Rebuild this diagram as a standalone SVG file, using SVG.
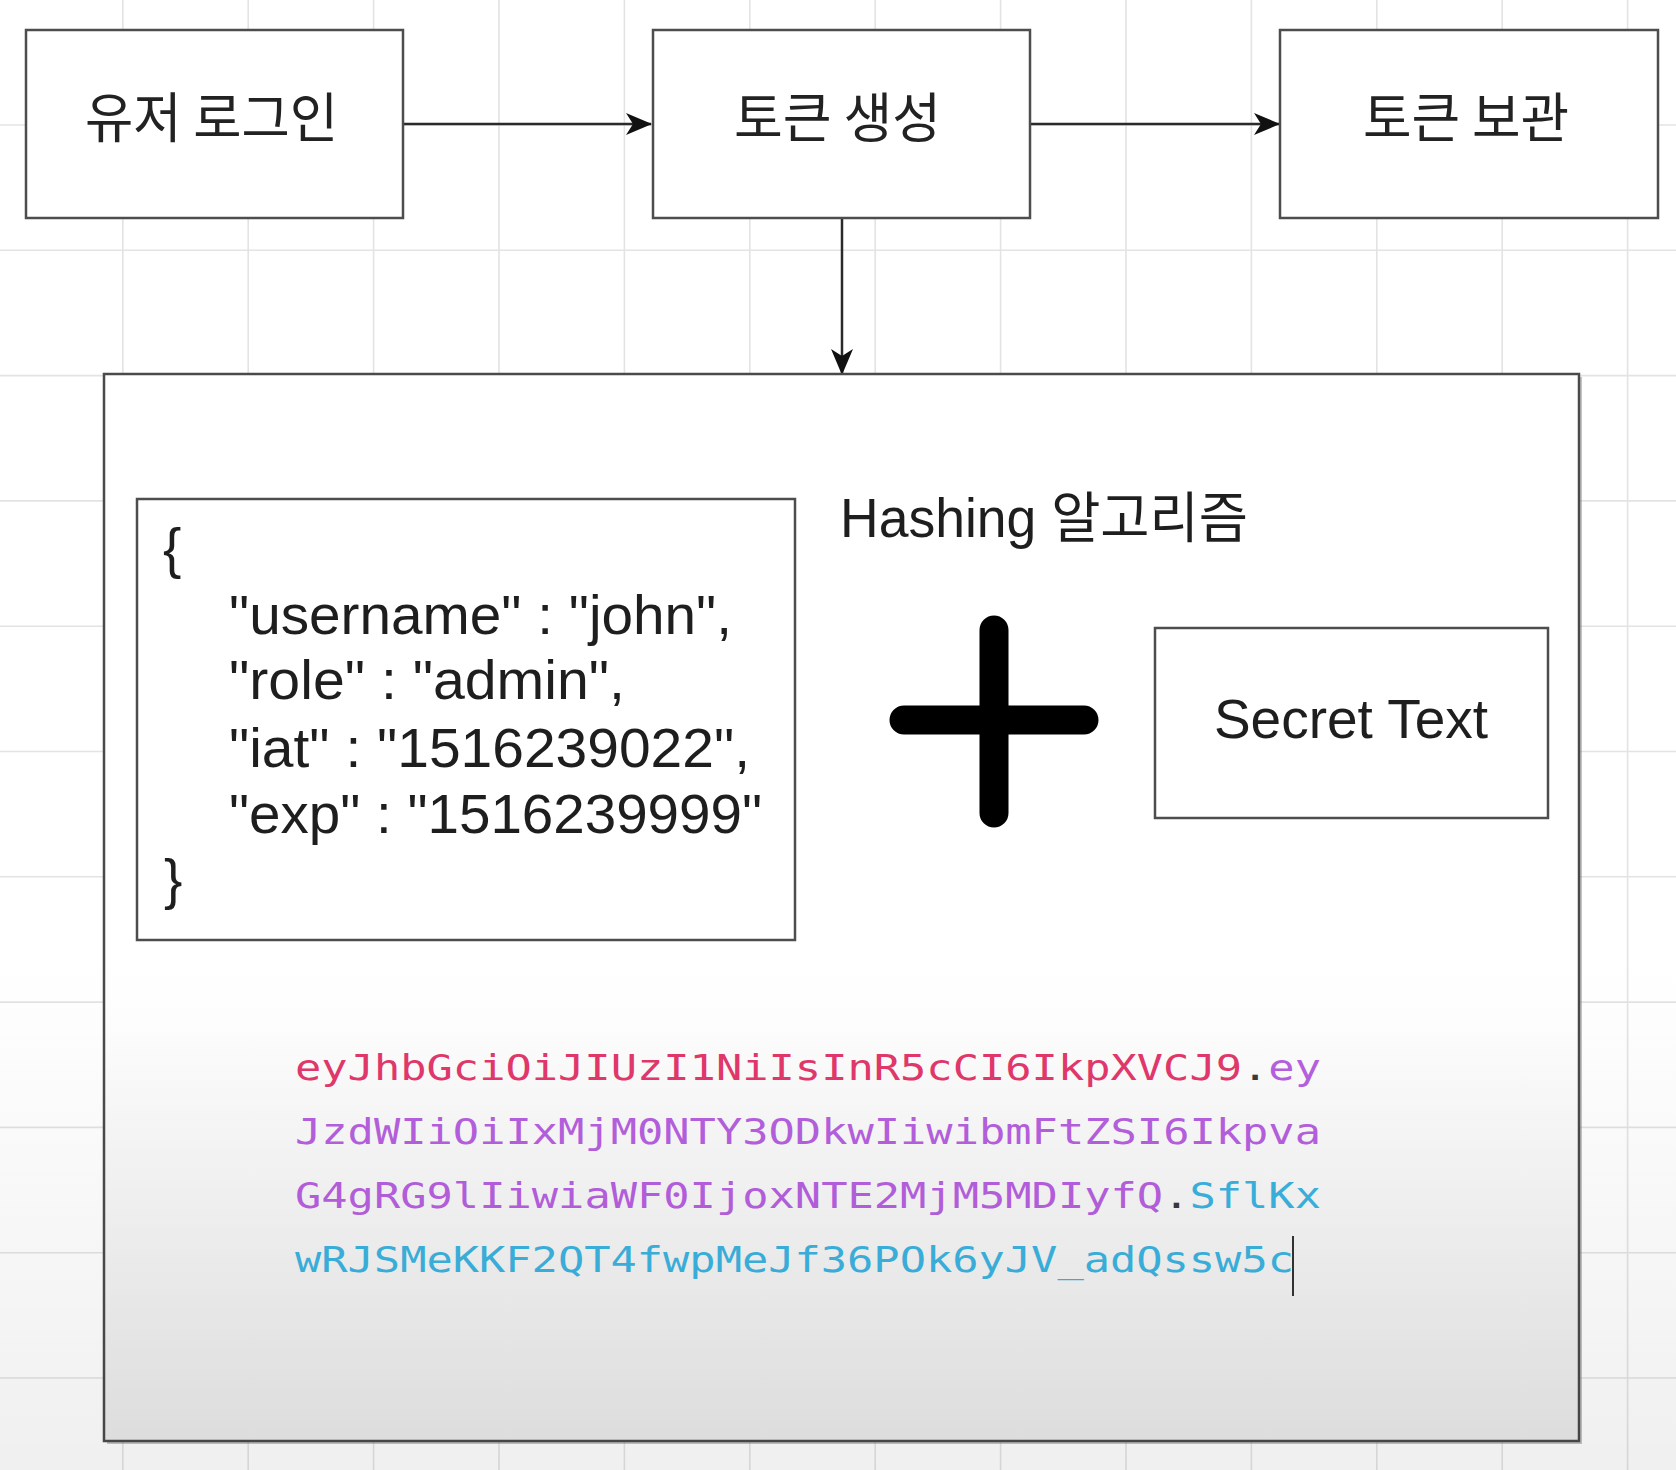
<svg xmlns="http://www.w3.org/2000/svg" width="1676" height="1470" viewBox="0 0 1676 1470">
  <style>
    .box { fill: #ffffff; stroke: #4d4d4d; stroke-width: 2.5; }
    .ko { font-family: "Noto Sans CJK KR", "Liberation Sans", sans-serif; font-size: 54px; fill: #222; }
    .sans { font-family: "Liberation Sans", "Noto Sans CJK KR", sans-serif; font-size: 55px; fill: #1e1e1e; }
    .mono { font-family: "DejaVu Sans Mono", "Liberation Mono", monospace; font-size: 35px; }
    .edge { stroke: #2a2a2a; stroke-width: 2.5; fill: none; }
    .grid { stroke: #e3e3e3; stroke-width: 1.6; fill: none; }
    .hdr { fill: #e2386b; }
    .pay { fill: #b660df; }
    .sig { fill: #3bb2e0; }
    .dot { fill: #3a3a3a; }
  </style>
  <defs>
    <marker id="arrow" viewBox="0 0 26 22" markerWidth="26" markerHeight="22" refX="25" refY="11" orient="auto" markerUnits="userSpaceOnUse">
      <path d="M0,0 L26,11 L0,22 L7,11 z" fill="#111"/>
    </marker>
    <linearGradient id="mainFill" x1="0" y1="0" x2="0" y2="1">
      <stop offset="0" stop-color="#ffffff"/>
      <stop offset="0.6" stop-color="#ffffff"/>
      <stop offset="1" stop-color="#eaeaea"/>
    </linearGradient>
    <linearGradient id="shade" x1="0" y1="0" x2="0" y2="1">
      <stop offset="0" stop-color="#000" stop-opacity="0"/>
      <stop offset="1" stop-color="#000" stop-opacity="0.06"/>
    </linearGradient>
  </defs>

  <rect x="0" y="0" width="1676" height="1470" fill="#ffffff"/>
  <g id="grid">
    <path class="grid" d="M122.8,0V1470 M248.2,0V1470 M373.6,0V1470 M499,0V1470 M624.4,0V1470 M749.8,0V1470 M875.2,0V1470 M1000.6,0V1470 M1126,0V1470 M1251.4,0V1470 M1376.8,0V1470 M1502.2,0V1470 M1627.6,0V1470 M0,125H1676 M0,250.3H1676 M0,375.6H1676 M0,500.9H1676 M0,626.2H1676 M0,751.5H1676 M0,876.8H1676 M0,1002.1H1676 M0,1127.4H1676 M0,1252.7H1676 M0,1378H1676"/>
  </g>

  <g id="connectors">
    <line class="edge" x1="403" y1="124" x2="651" y2="124" marker-end="url(#arrow)"/>
    <line class="edge" x1="1031" y1="124" x2="1279" y2="124" marker-end="url(#arrow)"/>
    <line class="edge" x1="842" y1="218" x2="842" y2="374" marker-end="url(#arrow)"/>
  </g>

  <g id="node-login">
    <rect class="box" x="26" y="30" width="377" height="188"/>
    <text class="ko" x="85" y="138" textLength="253" lengthAdjust="spacingAndGlyphs">유저 로그인</text>
  </g>
  <g id="node-create">
    <rect class="box" x="653" y="30" width="377" height="188"/>
    <text class="ko" x="734" y="138" textLength="207" lengthAdjust="spacingAndGlyphs">토큰 생성</text>
  </g>
  <g id="node-store">
    <rect class="box" x="1280" y="30" width="378" height="188"/>
    <text class="ko" x="1363" y="138" textLength="206" lengthAdjust="spacingAndGlyphs">토큰 보관</text>
  </g>

  <g id="node-token-detail">
    <rect x="107" y="377" width="1475" height="1067" fill="#8a8a8a" opacity="0.5"/>
    <rect x="104" y="374" width="1475" height="1067" fill="url(#mainFill)" stroke="#4a4a4a" stroke-width="2.5"/>
  </g>

  <g id="node-payload">
    <rect class="box" x="137" y="499" width="658" height="441"/>
    <text class="sans" x="163" y="567">{</text>
    <text class="sans" x="229" y="634" textLength="503" lengthAdjust="spacingAndGlyphs">"username" : "john",</text>
    <text class="sans" x="229" y="699" textLength="396" lengthAdjust="spacingAndGlyphs">"role" : "admin",</text>
    <text class="sans" x="229" y="767" textLength="521" lengthAdjust="spacingAndGlyphs">"iat" : "1516239022",</text>
    <text class="sans" x="229" y="833" textLength="533" lengthAdjust="spacingAndGlyphs">"exp" : "1516239999"</text>
    <text class="sans" x="164" y="898">}</text>
  </g>

  <g id="node-hashing">
    <text class="sans" x="840" y="537" font-size="56" textLength="408" lengthAdjust="spacingAndGlyphs">Hashing 알고리즘</text>
  </g>

  <g id="node-plus">
    <path d="M994,630 V813 M904,720 H1084" stroke="#000" stroke-width="29" stroke-linecap="round" fill="none"/>
  </g>

  <g id="node-secret">
    <rect class="box" x="1155" y="628" width="393" height="190" stroke-width="2"/>
    <text class="sans" x="1351" y="738" text-anchor="middle" font-size="55">Secret Text</text>
  </g>

  <g id="node-jwt">
    <text class="mono" x="295" y="1080" textLength="1026" lengthAdjust="spacingAndGlyphs"><tspan class="hdr">eyJhbGciOiJIUzI1NiIsInR5cCI6IkpXVCJ9</tspan><tspan class="dot">.</tspan><tspan class="pay">ey</tspan></text>
    <text class="mono pay" x="295" y="1144" textLength="1026" lengthAdjust="spacingAndGlyphs">JzdWIiOiIxMjM0NTY3ODkwIiwibmFtZSI6Ikpva</text>
    <text class="mono" x="295" y="1208" textLength="1026" lengthAdjust="spacingAndGlyphs"><tspan class="pay">G4gRG9lIiwiaWF0IjoxNTE2MjM5MDIyfQ</tspan><tspan class="dot">.</tspan><tspan class="sig">SflKx</tspan></text>
    <text class="mono sig" x="295" y="1272" textLength="999" lengthAdjust="spacingAndGlyphs">wRJSMeKKF2QT4fwpMeJf36POk6yJV_adQssw5c</text>
    <line x1="1293" y1="1236" x2="1293" y2="1296" stroke="#333" stroke-width="2"/>
  </g>

  <rect x="0" y="950" width="1676" height="520" fill="url(#shade)"/>
</svg>
